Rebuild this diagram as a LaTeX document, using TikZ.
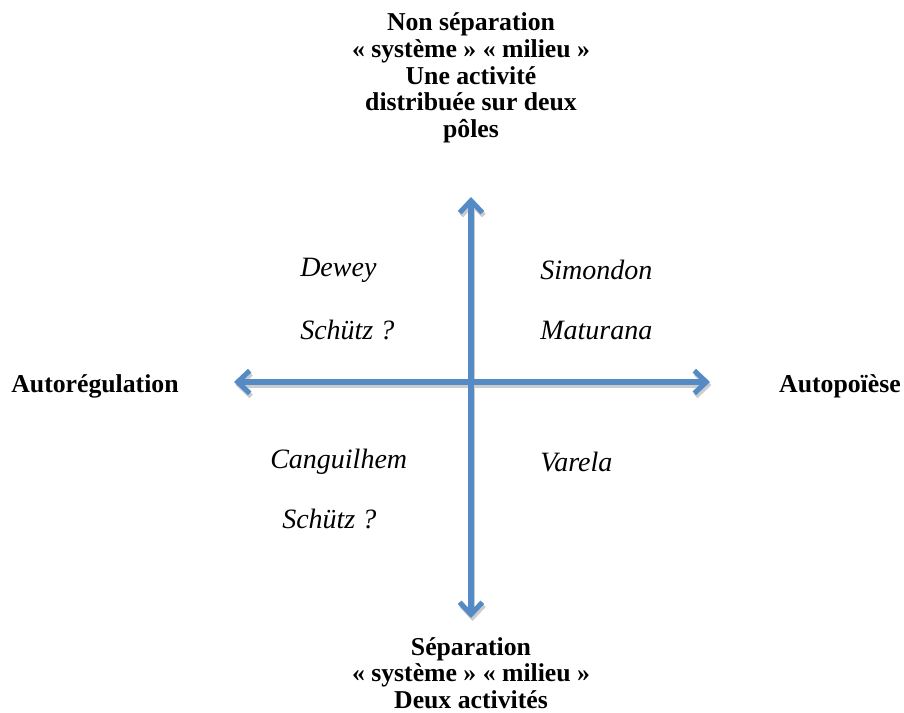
\documentclass[tikz,border=0pt]{standalone}
\usepackage{fontspec}
\setmainfont{Liberation Serif}
\usetikzlibrary{arrows.meta}
\definecolor{axeblue}{RGB}{84,138,198}
\tikzset{
  axe/.style={axeblue, line width=3.8pt, line cap=round, line join=round,
    {Straight Barb[length=9pt,width=17pt,line width=3.8pt]}-{Straight Barb[length=9pt,width=17pt,line width=3.8pt]}},
  ombre/.style={black!20, line width=3.8pt, line cap=round, line join=round,
    {Straight Barb[length=9pt,width=17pt,line width=3.8pt]}-{Straight Barb[length=9pt,width=17pt,line width=3.8pt]}},
  pole/.style={font=\fontsize{19.3}{20}\selectfont\bfseries, align=center, inner sep=0pt},
  auteur/.style={font=\fontsize{21}{22}\selectfont\itshape, anchor=west, inner sep=0pt}
}
\begin{document}
\begin{tikzpicture}[x=0.75pt,y=-0.75pt]
\useasboundingbox (0,0) rectangle (904,713);
\coordinate (haut) at (471,197);
\coordinate (bas) at (471,618);
\coordinate (gauche) at (234,382);
\coordinate (droite) at (710,382);
\draw[ombre] ([shift={(1.5,3)}]haut) -- ([shift={(1.5,3)}]bas);
\draw[ombre] ([shift={(1.5,3)}]gauche) -- ([shift={(1.5,3)}]droite);
\draw[axe] (haut) -- (bas);
\draw[axe] (gauche) -- (droite);
\node[pole] (nonsep) at (471,78) {Non séparation\\« système » « milieu »\\Une activité\\distribuée sur deux\\pôles};
\node[pole] (sep) at (471,673) {Séparation\\« système » « milieu »\\Deux activités};
\node[pole] (autoreg) at (95,386) {Autorégulation};
\node[pole] (autopo) at (840,386) {Autopoïèse};
\node[auteur] (dewey) at (300,270) {Dewey};
\node[auteur] (schutza) at (300,330) {Schütz ?};
\node[auteur] (simondon) at (540,270) {Simondon};
\node[auteur] (maturana) at (540,330) {Maturana};
\node[auteur] (canguilhem) at (270,462) {Canguilhem};
\node[auteur] (schutzb) at (282,519) {Schütz ?};
\node[auteur] (varela) at (540,462) {Varela};
\end{tikzpicture}
\end{document}
